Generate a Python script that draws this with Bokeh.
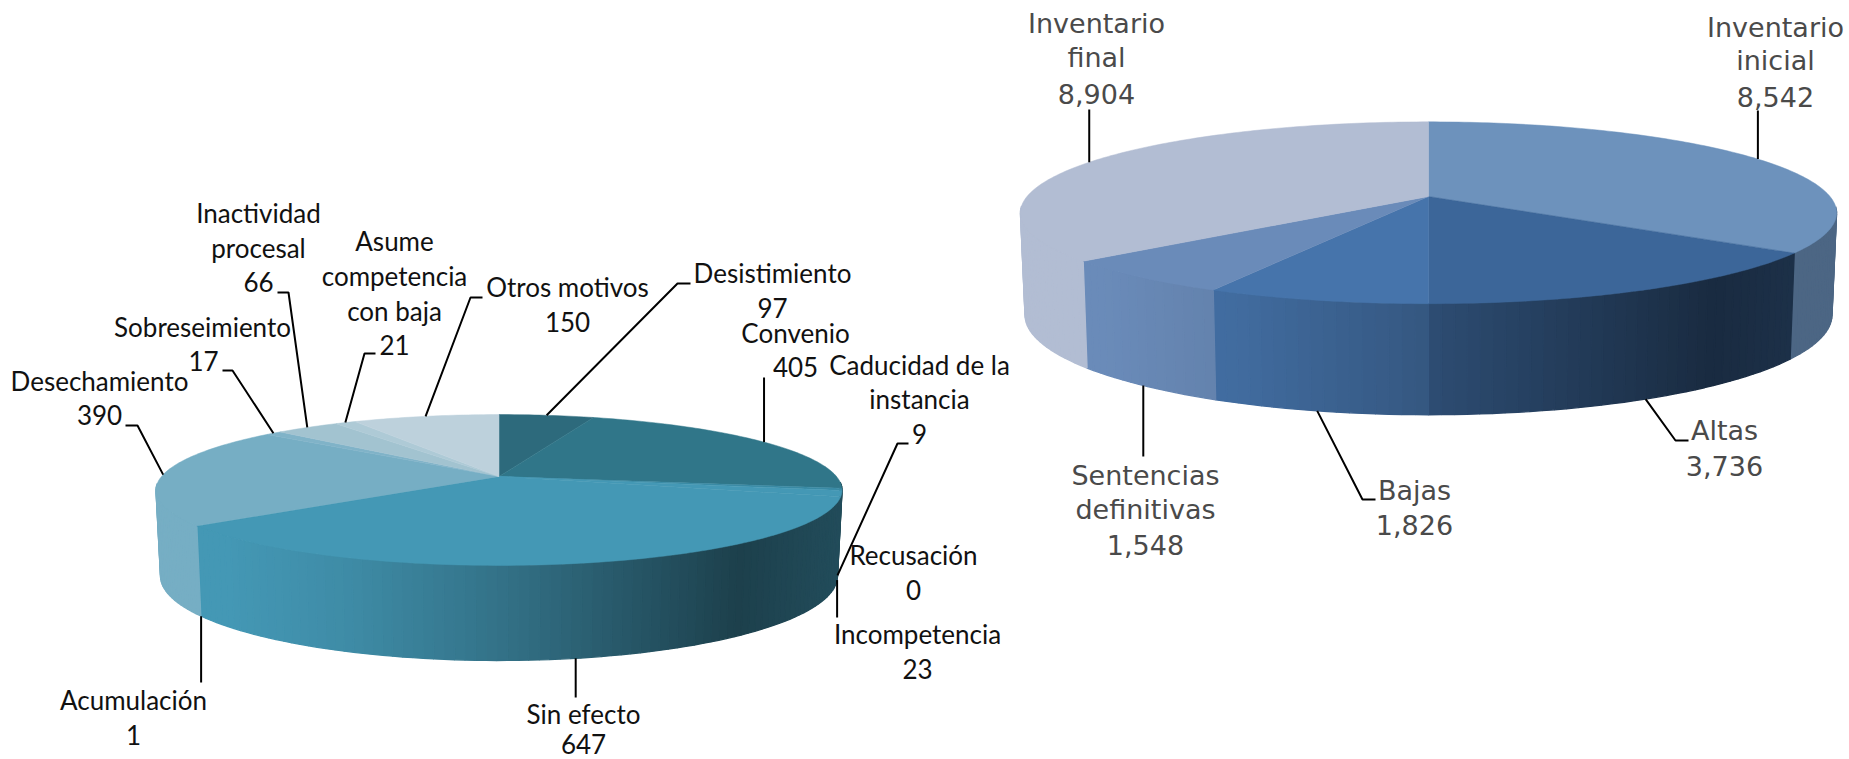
import math
import numpy as np
from bokeh.plotting import figure
from bokeh.models import Range1d
from bokeh.core.properties import value
from bokeh.embed import file_html
from bokeh.resources import INLINE

# ---------- data ----------
left_names = ["Desistimiento", "Convenio", "Caducidad de la instancia", "Recusación", "Incompetencia",
              "Sin efecto", "Acumulación", "Desechamiento", "Sobreseimiento", "Inactividad procesal",
              "Asume competencia con baja", "Otros motivos"]
left_values = [97, 405, 9, 0, 23, 647, 1, 390, 17, 66, 21, 150]
right_names = ["Inventario inicial", "Altas", "Bajas", "Sentencias definitivas", "Inventario final"]
right_values = [8542, 3736, 1826, 1548, 8904]

# ---------- styles ----------
left_colors = ["#2d6a7c", "#307689", "#3a8aa4", "#3f90ac", "#4498b5", "#4498b5", "#4498b5",
               "#76aec4", "#80b3c8", "#a2c3d0", "#aecad6", "#bdd1dc"]
right_colors = ["#6d92bc", "#3c6699", "#4674ab", "#6a8bb9", "#b2bdd3"]
left_flat = {7: 1.0, 8: 1.0, 9: 1.0, 10: 1.0, 11: 1.0}
right_flat = {0: 0.7, 4: 1.0}
LIGHT_X = [-1.0, -0.8, -0.45, 0.0, 0.7, 1.0]
LIGHT_F = [1.0, 1.0, 0.92, 0.75, 0.42, 0.5]
K = 0.179

left_geo = dict(cx=498.5, apex=476.0, A=73.0, R=337.5, bdepth=86.0, brx=338.5, bry=84.5)
right_geo = dict(cx=1428.0, apex=196.0, A=88.0, R=401.5, bdepth=102.0, brx=403.5, bry=100.0)


def top_pt(g, th):
    u, v = math.sin(th), math.cos(th)
    w = 1 + K * v
    return g["cx"] + g["R"] * u / w, g["apex"] - g["A"] * v / w


def geo_ellipse(g):
    back = g["apex"] - g["A"] / (1 + K)
    front = g["apex"] + g["A"] / (1 - K)
    return (back + front) / 2, (front - back) / 2, g["R"] / math.sqrt(1 - K * K)


def bot_pt(g, th):
    x, y = top_pt(g, th)
    ecy, ery, erx = geo_ellipse(g)
    return g["cx"] + (x - g["cx"]) * g["brx"] / erx, ecy + g["bdepth"] + (y - ecy) * g["bry"] / ery


def shade(hex_color, f):
    r, g, b = (int(hex_color[i:i + 2], 16) for i in (1, 3, 5))
    return "#%02x%02x%02x" % (round(r * f), round(g * f), round(b * f))


def angles(vals):
    c = np.cumsum([0] + list(vals)) / sum(vals) * 2 * math.pi
    return list(zip(c[:-1], c[1:]))


p = figure(width=1849, height=759, output_backend="svg", toolbar_location=None,
           x_range=Range1d(0, 1849), y_range=Range1d(759, 0), min_border=0)
p.axis.visible = False
p.grid.visible = False
p.outline_line_color = None
p.background_fill_color = "white"
p.border_fill_color = "white"


def draw_pie(g, vals, colors, flat):
    ecy, _, erx = geo_ellipse(g)
    sx, sy, sc = [], [], []
    for i, (a, b) in enumerate(angles(vals)):
        if b - a <= 0:
            continue
        n = max(1, int(math.degrees(b - a) / 1.5))
        ts = np.linspace(a, b, n + 1)
        for t0, t1 in zip(ts[:-1], ts[1:]):
            x0, y0 = top_pt(g, t0)
            x1, y1 = top_pt(g, t1)
            if max(y0, y1) < ecy - 6:
                continue
            bx0, by0 = bot_pt(g, t0)
            bx1, by1 = bot_pt(g, t1)
            sx.append([x0, x1, bx1, bx0])
            sy.append([y0, y1, by1, by0])
            f = flat.get(i)
            if f is None:
                f = float(np.interp(((x0 + x1) / 2 - g["cx"]) / erx, LIGHT_X, LIGHT_F))
            sc.append(shade(colors[i], f))
    p.patches(sx, sy, fill_color=sc, line_color=sc, line_width=1.3)
    tx, ty, tc = [], [], []
    for i, (a, b) in enumerate(angles(vals)):
        if b - a <= 0:
            continue
        n = max(2, int(math.degrees(b - a)))
        pts = [top_pt(g, t) for t in np.linspace(a, b, n + 1)]
        tx.append([g["cx"]] + [q[0] for q in pts])
        ty.append([g["apex"]] + [q[1] for q in pts])
        tc.append(colors[i])
    p.patches(tx, ty, fill_color=tc, line_color=tc, line_width=0.5)


draw_pie(left_geo, left_values, left_colors, left_flat)
draw_pie(right_geo, right_values, right_colors, right_flat)


def leader(g, vals, idx, elbow, on_bottom):
    a, b = angles(vals)[idx]
    mid = (a + b) / 2
    ax, ay = bot_pt(g, mid) if on_bottom else top_pt(g, mid)
    xs = [q[0] for q in elbow] + [ax]
    ys = [q[1] for q in elbow] + [ay]
    if len(elbow) == 1:
        xs[0] = ax
    p.line(xs, ys, line_color="black", line_width=2)


# index, elbow points, from the bottom rim?
left_leaders = [
    (0, [(690, 283), (677, 283)], False),
    (1, [(770, 377)], False),
    (2, [(908, 443), (897, 443)], True),
    (4, [(837, 617)], True),
    (5, [(575, 697)], True),
    (6, [(201, 682)], True),
    (7, [(125, 425), (137, 425)], False),
    (8, [(222, 370), (232, 370)], False),
    (9, [(277, 292), (288, 292)], False),
    (10, [(375, 353), (364, 353)], False),
    (11, [(482, 297), (470, 297)], False),
]
right_leaders = [
    (0, [(1758, 110)], False),
    (1, [(1688, 440), (1675, 440)], True),
    (2, [(1375, 499), (1362, 499)], True),
    (3, [(1143.5, 456)], True),
    (4, [(1087, 109)], False),
]
for idx, elbow, on_b in left_leaders:
    leader(left_geo, left_values, idx, elbow, on_b)
for idx, elbow, on_b in right_leaders:
    leader(right_geo, right_values, idx, elbow, on_b)

# text lines: text, centre x, middle y
left_text = [
    ("Desistimiento", 772, 272), ("97", 772, 307),
    ("Convenio", 795, 332), ("405", 795, 366),
    ("Caducidad de la", 919, 364), ("instancia", 919, 398), ("9", 919, 433),
    ("Recusación", 913, 554), ("0", 913, 589),
    ("Incompetencia", 917, 633), ("23", 917, 668),
    ("Sin efecto", 583, 713), ("647", 583, 743),
    ("Acumulación", 133, 699), ("1", 133, 734),
    ("Desechamiento", 99, 380), ("390", 99, 414),
    ("Sobreseimiento", 202, 326), ("17", 203, 360),
    ("Inactividad", 258, 212), ("procesal", 258, 247), ("66", 258, 281),
    ("Asume", 394, 240), ("competencia", 394, 275), ("con baja", 394, 310), ("21", 394, 344),
    ("Otros motivos", 567, 286), ("150", 567, 321),
]
right_text = [
    ("Inventario", 1096, 23), ("final", 1096, 57), ("8,904", 1096, 93),
    ("Inventario", 1775, 27), ("inicial", 1775, 60), ("8,542", 1775, 96),
    ("Altas", 1724, 430), ("3,736", 1724, 465),
    ("Bajas", 1414, 490), ("1,826", 1414, 524),
    ("Sentencias", 1145, 475), ("definitivas", 1145, 509), ("1,548", 1145, 544),
]
p.text([t[1] for t in left_text], [t[2] for t in left_text], text=[t[0] for t in left_text],
       text_font=value("Lato"), text_font_size="26px", text_color="#111111",
       text_align="center", text_baseline="middle")
p.text([t[1] for t in right_text], [t[2] for t in right_text], text=[t[0] for t in right_text],
       text_font=value("DejaVu Sans"), text_font_size="27px", text_color="#4a4a4a",
       text_align="center", text_baseline="middle")

open("out.html", "w").write(file_html(p, INLINE))
